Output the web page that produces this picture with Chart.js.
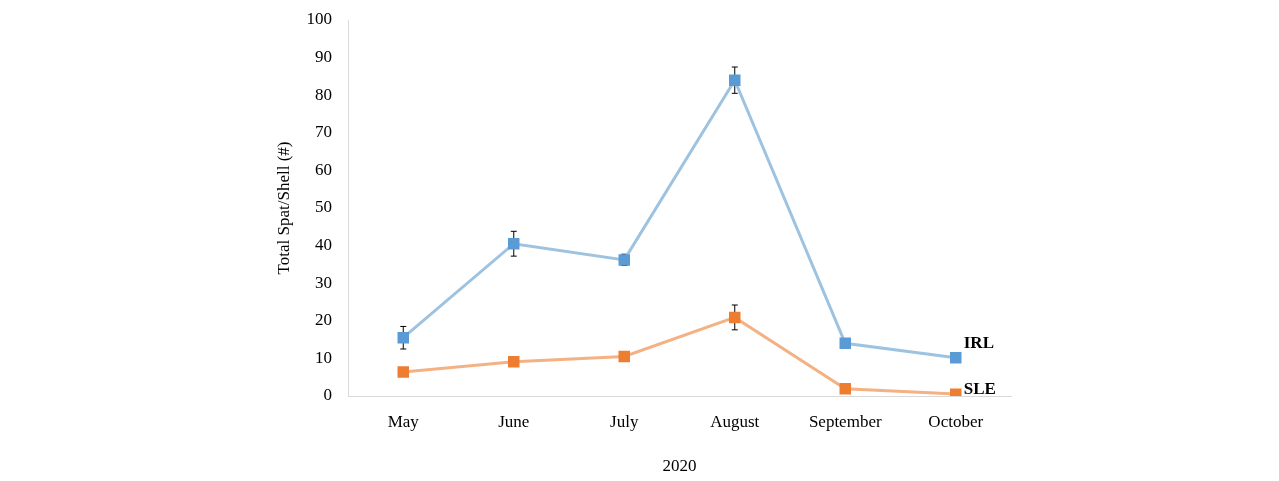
<!DOCTYPE html>
<html><head><meta charset="utf-8">
<script src="https://cdn.jsdelivr.net/npm/chart.js@4"></script>
<style>html,body{margin:0;background:#fff}#wrap{width:1279px;height:481px}</style>
</head><body><div id="wrap"><canvas id="c"></canvas></div>
<script>
const months = ['May', 'June', 'July', 'August', 'September', 'October'];
const irl = [15.5, 40.5, 36.2, 84, 14, 10.2];
const irlErr = [3, 3.3, 1.5, 3.5, 0.8, 0];
const sle = [6.4, 9.1, 10.5, 20.9, 1.9, 0.5];
const sleErr = [0, 0, 0, 3.3, 0, 0];

const font = { family: 'Liberation Serif', size: 17 };

const errorBars = {
  id: 'errorBars',
  beforeDatasetsDraw(chart) {
    const c = chart.ctx, y = chart.scales.y;
    [irlErr, sleErr].forEach((errs, di) => {
      chart.getDatasetMeta(di).data.forEach((pt, i) => {
        if (!errs[i]) return;
        const v = chart.data.datasets[di].data[i];
        const t = y.getPixelForValue(v + errs[i]), b = y.getPixelForValue(v - errs[i]);
        c.save(); c.strokeStyle = '#000'; c.lineWidth = 1;
        c.beginPath();
        c.moveTo(pt.x, t); c.lineTo(pt.x, b);
        c.moveTo(pt.x - 3, t); c.lineTo(pt.x + 3, t);
        c.moveTo(pt.x - 3, b); c.lineTo(pt.x + 3, b);
        c.stroke(); c.restore();
      });
    });
  },
  afterDatasetsDraw(chart) {
    const c = chart.ctx;
    c.save(); c.font = 'bold 17px Liberation Serif'; c.fillStyle = '#000';
    ['IRL', 'SLE'].forEach((lab, di) => {
      const pts = chart.getDatasetMeta(di).data;
      const p = pts[pts.length - 1];
      c.fillText(lab, p.x + 8, p.y - (di === 0 ? 10 : 0));
    });
    c.restore();
  }
};

new Chart(document.getElementById('c'), {
  type: 'line',
  data: {
    labels: months,
    datasets: [
      { data: irl, borderColor: '#9dc3e0', backgroundColor: '#5b9bd5', borderWidth: 3,
        pointStyle: 'rect', pointRadius: 6, pointBorderColor: '#5b9bd5', tension: 0 },
      { data: sle, borderColor: '#f4b183', backgroundColor: '#ed7d31', borderWidth: 3,
        pointStyle: 'rect', pointRadius: 6, pointBorderColor: '#ed7d31', tension: 0 }
    ]
  },
  options: {
    responsive: true, maintainAspectRatio: false, animation: false,
    layout: { padding: { left: 270, right: 268, top: 20, bottom: 0 } },
    plugins: { legend: { display: false }, tooltip: { enabled: false } },
    scales: {
      x: {
        offset: true,
        grid: { display: false }, border: { color: '#d9d9d9' },
        ticks: { color: '#000', font, padding: 8 },
        title: { display: true, text: '2020', color: '#000', font, padding: { top: 0 } },
        afterFit: s => { s.height = 85; }
      },
      y: {
        min: 0, max: 100,
        grid: { display: false }, border: { color: '#d9d9d9' },
        ticks: { stepSize: 10, color: '#000', font, padding: 8 },
        title: { display: true, text: 'Total Spat/Shell (#)', color: '#000', font },
        afterFit: s => { s.width = 78; }
      }
    }
  },
  plugins: [errorBars]
});
</script></body></html>
